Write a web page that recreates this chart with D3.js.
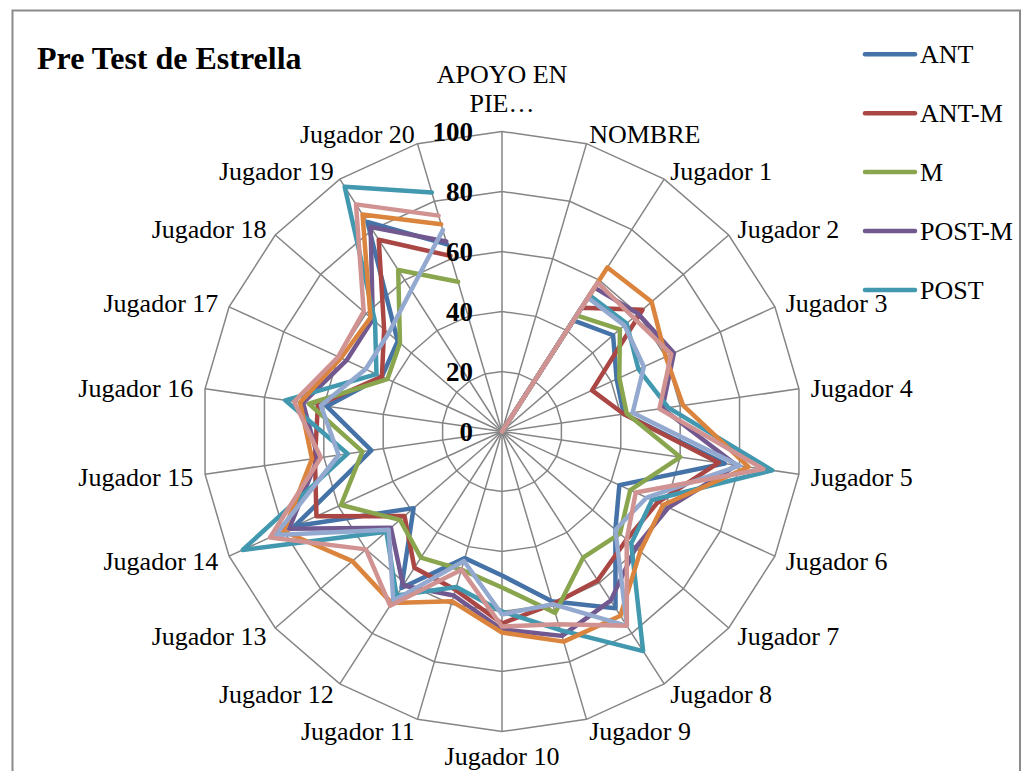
<!DOCTYPE html>
<html>
<head>
<meta charset="utf-8">
<script src="https://cdn.jsdelivr.net/npm/d3@7"></script>
<style>
  html, body { margin: 0; padding: 0; background: #ffffff; }
  svg { display: block; font-family: "Liberation Serif", "Times New Roman", serif; }
</style>
</head>
<body>
<svg id="chart" width="1032" height="771"></svg>
<script>
// ---- Data -------------------------------------------------------------
const titleText = "Pre Test de Estrella";

const categories = [
  "APOYO EN PIE…", "NOMBRE",
  "Jugador 1", "Jugador 2", "Jugador 3", "Jugador 4", "Jugador 5",
  "Jugador 6", "Jugador 7", "Jugador 8", "Jugador 9", "Jugador 10",
  "Jugador 11", "Jugador 12", "Jugador 13", "Jugador 14", "Jugador 15",
  "Jugador 16", "Jugador 17", "Jugador 18", "Jugador 19", "Jugador 20"
];

const tickValues = [0, 20, 40, 60, 80, 100];

const seriesNames  = ["ANT", "ANT-M", "M", "POST-M", "POST", "Serie 6", "Serie 7", "Serie 8"];
const legendNames  = ["ANT", "ANT-M", "M", "POST-M", "POST"];
const seriesColors = ["#4572A7", "#AA4643", "#89A54E", "#71588F", "#4198AF", "#DB843D", "#93A9CF", "#D19392"];

// first value is empty (text column), second is the NOMBRE column
const antValues    = [null, 0, 44, 49, 42, 41, 75, 43, 50, 70, 59, 48, 44, 62, 39, 76, 44, 59, 44, 46, 83, 65];
const antMValues   = [null, 0, 49, 62, 33, 41, 73, 57, 55, 59, 60, 64, 55, 54, 43, 68, 63, 62, 44, 52, 76, 61];
const mValues      = [null, 0, 46, 52, 43, 42, 60, 47, 52, 50, 63, 52, 48, 50, 45, 59, 47, 65, 42, 45, 64, 52];
const postMValues  = [null, 0, 57, 60, 63, 54, 79, 61, 59, 67, 71, 66, 57, 61, 49, 78, 62, 67, 57, 57, 81, 66];
const postValues   = [null, 0, 54, 55, 50, 56, 91, 55, 57, 87, 69, 60, 54, 65, 51, 95, 52, 73, 46, 56, 97, 83];
const serie6Values = [null, 0, 65, 66, 60, 61, 83, 59, 61, 73, 73, 67, 59, 68, 66, 80, 64, 68, 59, 58, 86, 72];
const serie7Values = [null, 0, 53, 54, 52, 44, 80, 53, 50, 77, 60, 61, 45, 67, 50, 83, 55, 61, 50, 50, 56, 70];
const serie8Values = [null, 0, 59, 58, 62, 53, 88, 49, 55, 77, 67, 65, 48, 69, 60, 85, 61, 70, 60, 61, 90, 75];

const seriesValues = [antValues, antMValues, mValues, postMValues, postValues,
                      serie6Values, serie7Values, serie8Values];

// ---- Layout -----------------------------------------------------------
const svg = d3.select("#chart");
const cx = 502, cy = 431.5, R = 300;
const gridColor = "#858585";

const r = d3.scaleLinear().domain([0, 100]).range([0, R]);
const angle = d3.scaleLinear().domain([0, categories.length]).range([0, 2 * Math.PI]);

// outer chart-area frame
svg.append("rect")
  .attr("x", 12.5).attr("y", 10.5)
  .attr("width", 1007.5).attr("height", 800)
  .attr("fill", "none")
  .attr("stroke", "#8a8a8a")
  .attr("stroke-width", 2);

// title
svg.append("text")
  .attr("x", 37).attr("y", 69)
  .attr("font-size", 32).attr("font-weight", "bold")
  .attr("fill", "#000")
  .text(titleText);

const g = svg.append("g").attr("transform", `translate(${cx},${cy})`);

// web rings
const ringLine = d3.lineRadial()
  .angle((d, i) => angle(i))
  .curve(d3.curveLinearClosed);

g.append("g").selectAll("path")
  .data(tickValues.filter(v => v > 0))
  .join("path")
  .attr("d", v => ringLine.radius(() => r(v))(categories))
  .attr("fill", "none")
  .attr("stroke", gridColor)
  .attr("stroke-width", 1.5);

// spokes
g.append("g").selectAll("line")
  .data(categories)
  .join("line")
  .attr("x1", 0).attr("y1", 0)
  .attr("x2", (d, i) => r(100) * Math.sin(angle(i)))
  .attr("y2", (d, i) => -r(100) * Math.cos(angle(i)))
  .attr("stroke", gridColor)
  .attr("stroke-width", 1.5);

// category labels around the web
function wrapWords(text, maxWidth, probe) {
  const words = text.split(" ");
  const lines = [];
  let cur = "";
  words.forEach(w => {
    const trial = cur ? cur + " " + w : w;
    probe.text(trial);
    if (cur && probe.node().getComputedTextLength() > maxWidth) {
      lines.push(cur);
      cur = w;
    } else {
      cur = trial;
    }
  });
  if (cur) lines.push(cur);
  return lines;
}

const labelSize = 26;
const lineGap = 29;
const probe = svg.append("text").attr("font-size", labelSize).attr("visibility", "hidden");

const labelGroup = g.append("g").attr("font-size", labelSize).attr("fill", "#000");
categories.forEach((name, i) => {
  const a = angle(i);
  const s = Math.sin(a), c = Math.cos(a);
  const vx = r(100) * s, vy = -r(100) * c;
  const lines = wrapWords(name, 140, probe);
  const t = labelGroup.append("text");
  let x, firstBaseline, anchor;
  if (Math.abs(s) < 0.01) {
    anchor = "middle";
    x = vx;
    if (c > 0) {
      firstBaseline = vy - 20 - (lines.length - 1) * lineGap;
    } else {
      firstBaseline = vy + 33;
    }
  } else {
    anchor = s > 0 ? "start" : "end";
    x = vx + 13 * s - (s > 0 ? 1 : -1);
    const center = vy - c * 11;
    firstBaseline = center + 9.8 - (lines.length - 1) * lineGap / 2;
  }
  t.attr("text-anchor", anchor);
  lines.forEach((ln, k) => {
    t.append("tspan").attr("x", x).attr("y", firstBaseline + k * lineGap).text(ln);
  });
});
probe.remove();

// series lines
const seriesLine = d3.lineRadial()
  .defined(d => d != null)
  .angle((d, i) => angle(i))
  .radius(d => r(d))
  .curve(d3.curveLinear);

g.append("g").selectAll("path")
  .data(seriesValues)
  .join("path")
  .attr("d", d => seriesLine(d))
  .attr("fill", "none")
  .attr("stroke", (d, i) => seriesColors[i])
  .attr("stroke-width", 4.5)
  .attr("stroke-linejoin", "round")
  .attr("stroke-linecap", "round");

// value axis labels on the first spoke
g.append("g").selectAll("text")
  .data(tickValues)
  .join("text")
  .attr("x", -29)
  .attr("y", v => -r(v) + 9.5)
  .attr("text-anchor", "end")
  .attr("font-size", 27)
  .attr("font-weight", "bold")
  .attr("fill", "#000")
  .text(v => v);

// legend
const legend = svg.append("g");
legendNames.forEach((name, i) => {
  const y = 54.3 + i * 58.9;
  legend.append("line")
    .attr("x1", 865).attr("x2", 915)
    .attr("y1", y).attr("y2", y)
    .attr("stroke", seriesColors[seriesNames.indexOf(name)])
    .attr("stroke-width", 4.5)
    .attr("stroke-linecap", "round");
  legend.append("text")
    .attr("x", 920).attr("y", y + 9)
    .attr("font-size", 26)
    .attr("fill", "#000")
    .text(name);
});
</script>
</body>
</html>
